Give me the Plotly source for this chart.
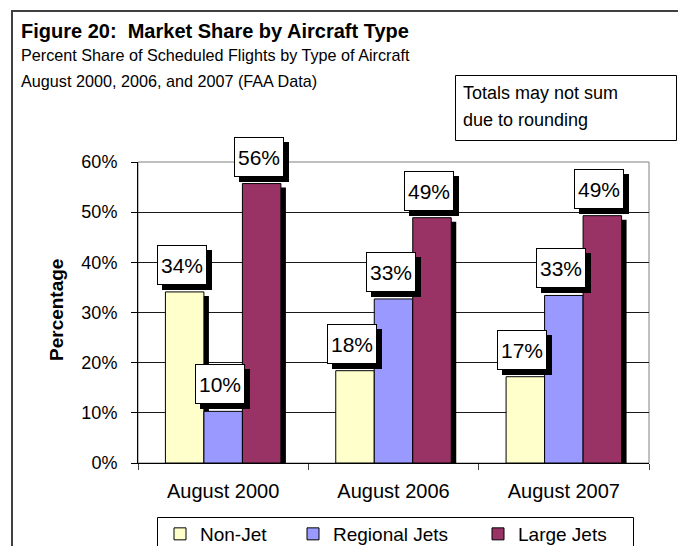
import plotly.graph_objects as go

# ---------------- data ----------------
categories = ["August 2000", "August 2006", "August 2007"]
series_names = ["Non-Jet", "Regional Jets", "Large Jets"]
non_jet = [34.1, 18.4, 17.2]
regional_jets = [10.3, 32.7, 33.4]
large_jets = [55.7, 48.9, 49.3]
series_values = [non_jet, regional_jets, large_jets]
series_colors = ["#FFFFCC", "#9999FF", "#993366"]
y_ticks = [0, 10, 20, 30, 40, 50, 60]

# ---------------- geometry helpers ----------------
W, H = 678, 546
PL, PR, PT, PB = 138, 649, 162, 463  # plot area in pixels


def PX(px):
    return (px - PL) / (PR - PL)


def PY(py):
    return (PB - py) / (PB - PT)


FONT = "Liberation Sans, Arial, sans-serif"
bar_w = 0.226
cat_px = (PR - PL) / len(categories)
shadow_dx = 5 / cat_px
shadow_dy = 4 / ((PB - PT) / 60)

fig = go.Figure()
legend_ids = ["legend", "legend2", "legend3"]
for j, (name, vals, col) in enumerate(zip(series_names, series_values, series_colors)):
    off = -1.5 * bar_w + j * bar_w
    fig.add_trace(go.Bar(
        x=categories, y=[v - shadow_dy for v in vals], width=bar_w,
        offset=off + shadow_dx, marker=dict(color="#000000", line=dict(width=0)),
        showlegend=False, hoverinfo="skip"))
    fig.add_trace(go.Bar(
        x=categories, y=vals, width=bar_w, offset=off, name=name,
        marker=dict(color=col, line=dict(color="#000000", width=1)),
        legend=legend_ids[j]))

annotations = []
# data labels (shadow first, then box)
for j, vals in enumerate(series_values):
    for i, v in enumerate(vals):
        xc = i + (j - 1) * bar_w
        annotations.append(dict(x=xc, y=v, xref="x", yref="y", xanchor="center", yanchor="bottom",
                                showarrow=False, width=46, height=36, borderpad=1, borderwidth=1,
                                text=" ", bgcolor="#000000", bordercolor="#000000",
                                font=dict(family=FONT, size=21, color="#000000"),
                                xshift=2, yshift=2))
for j, vals in enumerate(series_values):
    for i, v in enumerate(vals):
        xc = i + (j - 1) * bar_w
        annotations.append(dict(x=xc, y=v, xref="x", yref="y", xanchor="center", yanchor="bottom",
                                showarrow=False, width=46, height=36, borderpad=1, borderwidth=1,
                                text=f"{round(v)}%", bgcolor="#FFFFFF", bordercolor="#000000",
                                font=dict(family=FONT, size=21, color="#000000"),
                                xshift=-3, yshift=7))

# titles
annotations.append(dict(xref="paper", yref="paper", x=PX(19), y=PY(31), xanchor="left", yanchor="middle",
                        showarrow=False, text="<b>Figure 20:  Market Share by Aircraft Type</b>",
                        font=dict(family=FONT, size=20, color="#000000")))
annotations.append(dict(xref="paper", yref="paper", x=PX(19), y=PY(55), xanchor="left", yanchor="middle",
                        showarrow=False, text="Percent Share of Scheduled Flights by Type of Aircraft",
                        font=dict(family=FONT, size=16.2, color="#000000")))
annotations.append(dict(xref="paper", yref="paper", x=PX(19), y=PY(81), xanchor="left", yanchor="middle",
                        showarrow=False, text="August 2000, 2006, and 2007 (FAA Data)",
                        font=dict(family=FONT, size=16.2, color="#000000")))
# note box text (box drawn as a shape)
annotations.append(dict(xref="paper", yref="paper", x=PX(461), y=PY(93), xanchor="left", yanchor="middle",
                        showarrow=False, text="Totals may not sum",
                        font=dict(family=FONT, size=18, color="#000000")))
annotations.append(dict(xref="paper", yref="paper", x=PX(461), y=PY(120), xanchor="left", yanchor="middle",
                        showarrow=False, text="due to rounding",
                        font=dict(family=FONT, size=18, color="#000000")))
# y axis title
annotations.append(dict(xref="paper", yref="paper", x=PX(56), y=PY(310), xanchor="center", yanchor="middle",
                        showarrow=False, text="<b>Percentage</b>", textangle=-90,
                        font=dict(family=FONT, size=19, color="#000000")))

shapes = [
    # outer frame
    dict(type="rect", xref="paper", yref="paper", x0=PX(12), x1=PX(700), y0=PY(11), y1=PY(580),
         line=dict(color="#404040", width=2), layer="above"),
    # plot-area border (gray)
    dict(type="rect", xref="paper", yref="paper", x0=0, x1=1, y0=0, y1=1,
         line=dict(color="#808080", width=1), layer="below"),
    # note box
    dict(type="rect", xref="paper", yref="paper", x0=PX(455.5), x1=PX(676.5), y0=PY(75.5), y1=PY(140.5),
         line=dict(color="#000000", width=1), fillcolor="#FFFFFF", layer="below"),
    # legend frame
    dict(type="rect", xref="paper", yref="paper", x0=PX(157.5), x1=PX(633.5), y0=PY(517.5), y1=PY(580),
         line=dict(color="#000000", width=1), fillcolor="#FFFFFF", layer="above"),
]

legend_text_x = [200, 333, 518]
legend_common = dict(orientation="h", xanchor="left", yanchor="middle", bgcolor="rgba(0,0,0,0)",
                     borderwidth=0, font=dict(family=FONT, size=19, color="#000000"),
                     itemclick=False, itemdoubleclick=False)
legends = {}
for k, lid in enumerate(legend_ids):
    legends[lid] = dict(legend_common, x=PX(legend_text_x[k] - 40), y=PY(534))

fig.update_layout(
    width=W, height=H,
    margin=dict(l=PL, r=W - PR, t=PT, b=H - PB, pad=0, autoexpand=False),
    paper_bgcolor="#FFFFFF", plot_bgcolor="#FFFFFF",
    barmode="overlay",
    showlegend=True,
    font=dict(family=FONT, color="#000000"),
    xaxis=dict(type="category", tickson="boundaries", ticks="outside", ticklen=6,
               tickcolor="#404040", showline=True, linecolor="#000000", linewidth=1,
               showgrid=False, tickfont=dict(family=FONT, size=20, color="#000000"),
               ticklabelstandoff=10, fixedrange=True, automargin=False),
    yaxis=dict(range=[0, 60], tickvals=y_ticks, ticktext=[f"{t}%" for t in y_ticks],
               ticks="outside", ticklen=6, tickcolor="#000000", showline=True,
               linecolor="#000000", linewidth=1, showgrid=True, gridcolor="#1a1a1a",
               gridwidth=1, zeroline=False, tickfont=dict(family=FONT, size=18, color="#000000"),
               ticklabelstandoff=10, fixedrange=True, automargin=False),
    annotations=annotations,
    shapes=shapes,
    **legends,
)

fig.write_html("out.html", config={"displayModeBar": False},
               post_script="document.body.style.margin='0px';")
